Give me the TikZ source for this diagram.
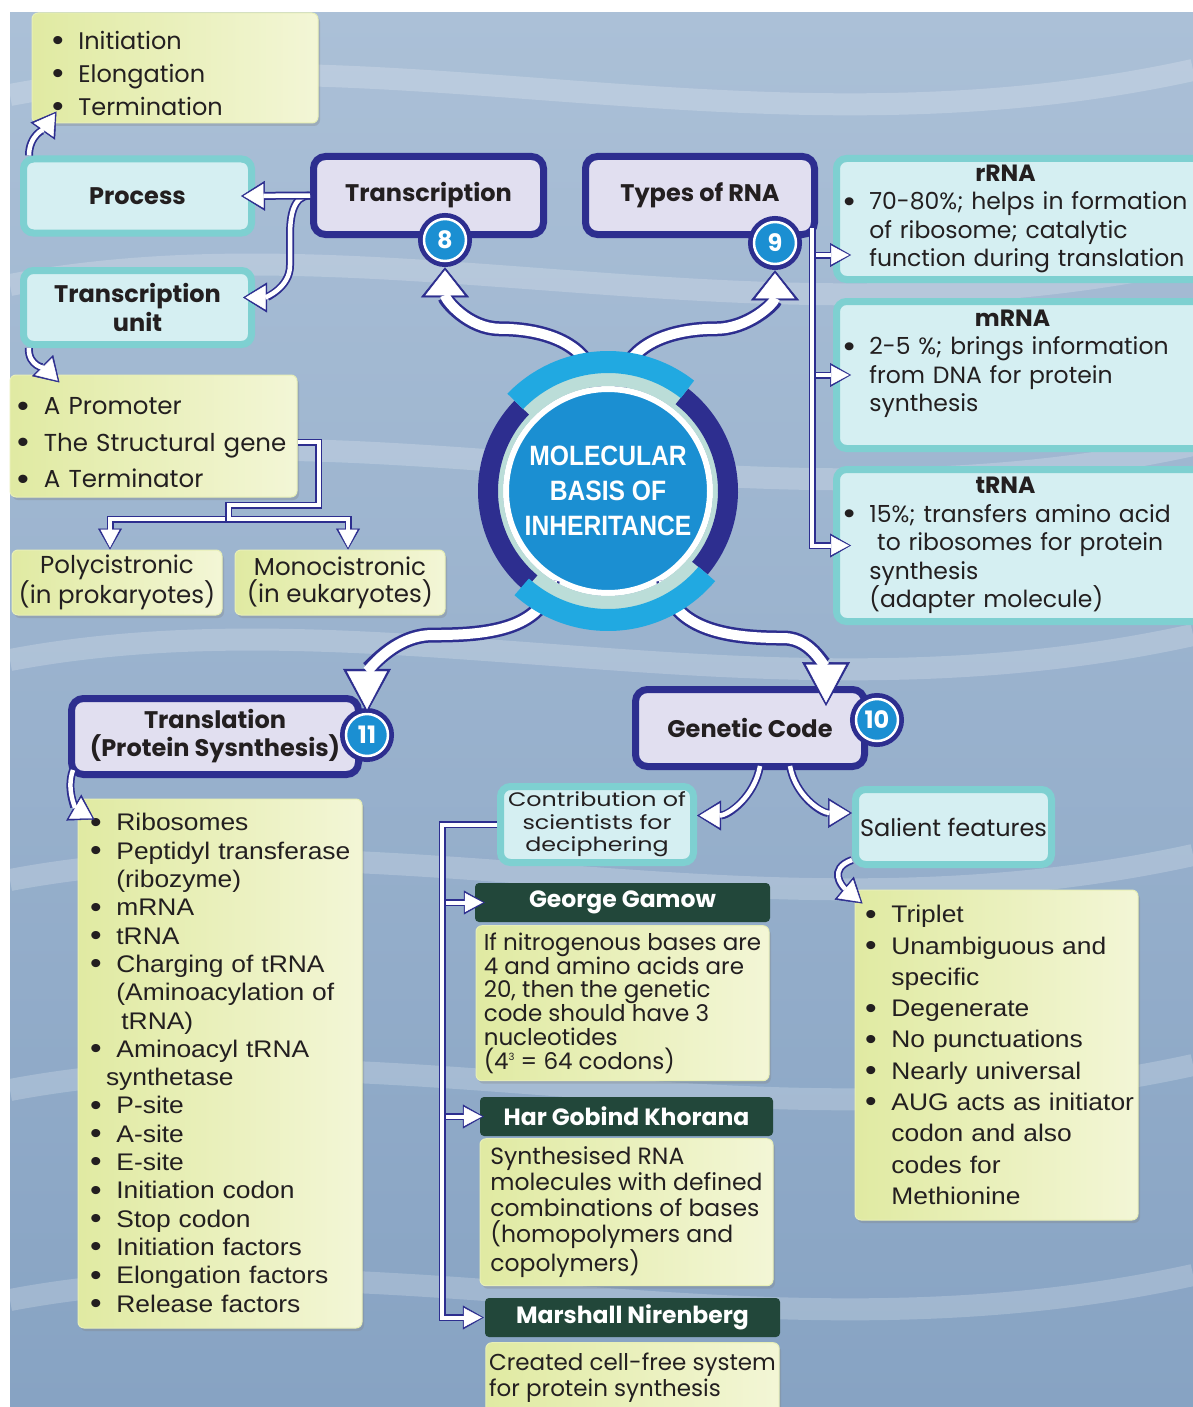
\documentclass[tikz,border=0pt]{standalone}
\usepackage{fontspec}
\setmainfont{Poppins}
\newfontfamily\widefont[FakeStretch=1.22]{Poppins}
\newfontfamily\listfont[FakeStretch=1.1]{Liberation Sans}
\newfontfamily\hubfont[FakeStretch=0.88]{Liberation Sans}
\usetikzlibrary{arrows.meta, positioning, shadows}

\definecolor{navy}{HTML}{2D2E8F}
\definecolor{lav}{HTML}{E1DFF0}
\definecolor{tealb}{HTML}{7ED0D1}
\definecolor{tealf}{HTML}{D5EFF2}
\definecolor{ylwA}{HTML}{E0EAA2}
\definecolor{ylwB}{HTML}{F3F6D6}
\definecolor{dkgreen}{HTML}{22473A}
\definecolor{bblue}{HTML}{1B8FD2}
\definecolor{arcblue}{HTML}{21A9E1}
\definecolor{mint}{HTML}{BBDDD8}
\definecolor{ink}{HTML}{231F20}
\definecolor{bgA}{HTML}{ABC0D7}
\definecolor{bgB}{HTML}{87A3C3}

\newcommand{\bitem}[1]{\mbox{\makebox[1.1em][l]{\listfont\raisebox{-0.06em}{\scalebox{1.25}{\textbullet}}}#1}}
\newcommand{\bpad}[1]{\mbox{\hspace*{1.1em}#1}}

\begin{document}
\begin{tikzpicture}[
    x=1pt, y=-1pt,
    hdr/.style={draw=navy, line width=7pt, fill=lav, rounded corners=12pt,
                text=ink, align=center, font=\fontsize{24}{29}\selectfont\bfseries},
    soft/.style={draw=tealb, line width=7pt, fill=tealf, rounded corners=10pt,
                 text=ink, align=center},
    note/.style={left color=ylwA, right color=ylwB, draw=ylwA!60!ylwB, line width=1pt,
                 rounded corners=6pt, text=ink, align=left,
                 drop shadow={shadow xshift=2pt, shadow yshift=-3pt, opacity=.3}},
    banner/.style={fill=dkgreen, rounded corners=4pt, text=white, minimum height=39pt,
                   font=\fontsize{23.5}{26}\selectfont\bfseries},
    badge/.style={circle, minimum size=42pt, inner sep=0pt, fill=bblue, draw=white,
                  line width=2.5pt, text=white, font=\fontsize{24}{24}\selectfont\bfseries,
                  preaction={draw=navy, line width=12pt}},
    hub/.style={circle, minimum size=204pt, inner sep=0pt, fill=bblue, draw=white,
                line width=6pt, text=white, align=center,
                font=\hubfont\fontsize{28}{35}\selectfont\bfseries},
    flow/.style={draw=navy, line width=15pt, -{Triangle[length=30pt, width=48pt, line width=0.5pt]},
                 postaction={draw=white, line width=10pt,
                 -{Triangle[length=25pt, width=39pt, line width=0.5pt]}, shorten >=3pt}},
    flowlong/.style={draw=navy, line width=15pt, -{Triangle[length=44pt, width=48pt, line width=0.5pt]},
                 postaction={draw=white, line width=10pt,
                 -{Triangle[length=38pt, width=40pt, line width=0.5pt]}, shorten >=3.5pt}},
    link/.style={draw=navy, line width=8pt, -{Triangle[length=24pt, width=30pt, line width=0.5pt]},
                 postaction={draw=white, line width=4.5pt,
                 -{Triangle[length=20pt, width=24pt, line width=0.5pt]}, shorten >=2.5pt}},
    twin/.style={draw=navy, line width=7pt, -{Triangle[length=21pt, width=24pt, line width=0.5pt]},
                 postaction={draw=white, line width=4pt,
                 -{Triangle[length=18pt, width=19pt, line width=0.5pt]}, shorten >=2pt}},
]
\useasboundingbox (0,0) rectangle (1193,1407);
\fill[top color=bgA, bottom color=bgB] (10,13) rectangle (1193,1407);
\foreach \yy in {95, 285, 470, 660, 880, 1090, 1300}
  \draw[white, opacity=.2, line width=22pt] (10,\yy) .. controls (380,\yy-70) and (760,\yy+70) .. (1193,\yy-25);

\node[note, minimum width=286pt, minimum height=110pt, text width=246pt,
      font=\fontsize{24}{33}\selectfont] (ini) at (175,68)
   {\rule{0pt}{30pt}\bitem{Initiation}\\ \bitem{Elongation}\\ \bitem{Termination}};
\node[soft, minimum width=228pt, minimum height=74pt, font=\fontsize{24}{29}\selectfont\bfseries]
   (proc) at (137.5,196) {Process};
\node[soft, minimum width=228pt, minimum height=74pt, font=\fontsize{24}{29}\selectfont\bfseries]
   (tru) at (137.5,307.5) {Transcription\\unit};
\node[hdr, minimum width=230pt, minimum height=78pt] (trs) at (428.5,195.5) {Transcription};
\node[hdr, minimum width=229pt, minimum height=78pt] (typ) at (700,195.5) {Types of RNA};
\node[badge] (b8) at (445,240) {8};
\node[badge] (b9) at (775,243) {9};
\node[note, minimum width=287pt, minimum height=122pt, text width=273pt,
      font=\fontsize{24.5}{36.5}\selectfont] (prm) at (153.5,436)
   {\rule{0pt}{32pt}\bitem{A Promoter}\\ \bitem{The Structural gene}\\ \bitem{A Terminator}};
\node[note, align=center, minimum width=210pt, minimum height=65pt,
      font=\fontsize{24.5}{27}\selectfont] (poly) at (117,582.5) {Polycistronic\\(in prokaryotes)};
\node[note, align=center, minimum width=210pt, minimum height=65pt,
      font=\fontsize{24.5}{27}\selectfont] (mono) at (340,582.5) {Monocistronic\\(in eukaryotes)};

\node[soft, anchor=west, align=left, text width=380pt, inner xsep=7pt, minimum height=121pt,
      font=\fontsize{23.5}{28.5}\selectfont] (rrna) at (833,219)
   {\makebox[324pt]{\bfseries rRNA}\\ \bitem{70-80\%; helps in formation}\\
    \bpad{of ribosome; catalytic}\\ \bpad{function during translation}};
\node[soft, anchor=west, align=left, text width=380pt, inner xsep=7pt, minimum height=147pt,
      font=\fontsize{23.5}{28.5}\selectfont] (mrna) at (833,375)
   {\makebox[338pt]{\bfseries mRNA}\\ \bitem{2-5 \%; brings information}\\
    \bpad{from DNA for protein}\\ \bpad{synthesis}\\ \mbox{}};
\node[soft, anchor=west, align=left, text width=380pt, inner xsep=7pt, minimum height=152pt,
      font=\fontsize{23.5}{28.5}\selectfont] (trna) at (833,545.5)
   {\makebox[324pt]{\bfseries tRNA}\\ \bitem{15\%; transfers amino acid}\\
    \bpad{\ to ribosomes for protein}\\ \bpad{synthesis}\\ \bpad{(adapter molecule)}};

\node[hub] (mbi) at (608,491) {MOLECULAR\\BASIS OF\\INHERITANCE};

\node[hdr, minimum width=287pt, minimum height=76pt, font=\fontsize{24}{28}\selectfont\bfseries]
   (trl) at (215,736.5) {Translation\\(Protein Sysnthesis)};
\node[badge] (b11) at (367,735) {11};
\node[hdr, minimum width=229pt, minimum height=77pt] (gen) at (750,728) {Genetic Code};
\node[badge] (b10) at (877,720) {10};

\node[note, minimum width=284pt, minimum height=529pt, text width=260pt,
      font=\listfont\fontsize{24}{28.3}\selectfont] (rib) at (220,1063.5)
   {\bitem{Ribosomes}\\ \bitem{Peptidyl transferase}\\ \bpad{(ribozyme)}\\ \bitem{mRNA}\\
    \bitem{tRNA}\\ \bitem{Charging of tRNA}\\ \bpad{(Aminoacylation of}\\ \bpad{\hspace*{5pt}tRNA)}\\
    \bitem{Aminoacyl tRNA}\\ \mbox{\hspace*{16pt}synthetase}\\ \bitem{P-site}\\ \bitem{A-site}\\
    \bitem{E-site}\\ \bitem{Initiation codon}\\ \bitem{Stop codon}\\ \bitem{Initiation factors}\\
    \bitem{Elongation factors}\\ \bitem{Release factors}};

\node[soft, minimum width=193pt, minimum height=76pt, font=\widefont\fontsize{19.5}{22.5}\selectfont]
   (cont) at (597,824.5) {Contribution of\\scientists for\\deciphering};
\node[soft, minimum width=196pt, minimum height=75pt, font=\fontsize{24}{27}\selectfont]
   (sal) at (953.5,827) {Salient features};
\node[note, minimum width=283pt, minimum height=330pt, text width=263pt,
      font=\listfont\fontsize{24}{31.3}\selectfont] (sfl) at (996.5,1055)
   {\bitem{Triplet}\\ \bitem{Unambiguous and}\\ \bpad{specific}\\ \bitem{Degenerate}\\
    \bitem{No punctuations}\\ \bitem{Nearly universal}\\ \bitem{AUG acts as initiator}\\
    \bpad{codon and also}\\ \bpad{codes for}\\ \bpad{Methionine}};

\node[banner, minimum width=295pt] (gam) at (622.5,902.5) {George Gamow};
\node[note, below=3pt of gam, minimum width=293pt, minimum height=155pt,
      font=\fontsize{23}{23.8}\selectfont] (gamt)
   {If nitrogenous bases are\\4 and amino acids are\\20, then the genetic\\code should have 3\\
    nucleotides\\(4\raisebox{0.4em}{\fontsize{10}{10}\selectfont 3} = 64 codons)};
\node[banner, minimum width=293pt] (khor) at (626.5,1116.5) {Har Gobind Khorana};
\node[note, below=2pt of khor, minimum width=293pt, minimum height=147pt,
      font=\fontsize{23.5}{26}\selectfont] (khort)
   {Synthesised RNA\\molecules with defined\\combinations of bases\\(homopolymers and\\copolymers)};
\node[banner, minimum width=295pt] (nir) at (632.5,1317.5) {Marshall Nirenberg};
\node[note, below=5pt of nir, minimum width=293pt, minimum height=70pt,
      font=\fontsize{23}{26}\selectfont] (nirt)
   {Created cell-free system\\for protein synthesis};

\draw[link] (trs.west) to[out=180,in=90] ++(-20,40) -- ++(0,30)
   to[out=-90,in=0] ([xshift=-12pt,yshift=10pt]tru.east);
\draw[link] (trs.west) -- ([xshift=-14pt]proc.east);
\draw[link] ([xshift=9pt]proc.north west) to[out=90,in=235] ([xshift=25pt,yshift=12pt]ini.south west);
\draw[link] ([xshift=9pt]tru.south west) to[out=-95,in=135] ([xshift=50pt,yshift=-8pt]prm.north west);
\draw[twin] ([yshift=-6pt]prm.east) -- ++(21,0) -- ++(0,63) -- ++(-90,0) -- ++(0,14)
   -| ([xshift=-7pt]poly.north);
\draw[twin] ([yshift=-6pt]prm.east) -- ++(21,0) -- ++(0,63) -- ++(-90,0) -- ++(0,14)
   -| ([xshift=8pt]mono.north);
\draw[twin] ([xshift=-6pt,yshift=10pt]typ.south east) |- ([xshift=18pt,yshift=-36pt]rrna.west);
\draw[twin] ([xshift=-6pt,yshift=10pt]typ.south east) |- ([xshift=18pt]mrna.west);
\draw[twin] ([xshift=-6pt,yshift=10pt]typ.south east) |- ([xshift=18pt]trna.west);

\draw[flow] (mbi.97) to[out=95,in=0] ++(-95,-58) to[out=180,in=-90] ([yshift=-5pt]b8.south);
\draw[flow] (mbi.83) to[out=85,in=180] ++(95,-58) to[out=0,in=-90] ([yshift=-5pt]b9.south);
\draw[flowlong] (mbi.238) to[out=-100,in=0] ++(-120,55) to[out=180,in=90] (b11.north);
\draw[flowlong] (mbi.-58) to[out=-80,in=180] ++(120,58) to[out=0,in=90]
   ([xshift=-42pt,yshift=-20pt]gen.north east);

\draw[link] ([xshift=5pt,yshift=8pt]trl.south west) to[out=-110,in=150] ([xshift=17pt,yshift=-21pt]rib.north west);
\draw[link] ([xshift=10pt,yshift=4pt]gen.south) to[out=-100,in=0] ([yshift=9pt]cont.east);
\draw[link] ([xshift=40pt,yshift=4pt]gen.south) to[out=-80,in=180] ([yshift=14pt]sal.west);
\draw[link] ([yshift=8pt]sal.south west) to[out=200,in=140,looseness=1.5] ([xshift=8pt,yshift=-14pt]sfl.north west);
\draw[twin] (cont.west) -- ++(-55,0) |- ([xshift=10pt]gam.west);
\draw[twin] (cont.west) -- ++(-55,0) |- ([xshift=4pt]khor.west);
\draw[twin] (cont.west) -- ++(-55,0) |- ([xshift=-1pt]nir.west);

\fill[mint, even odd rule] (mbi.center) circle[radius=124pt] circle[radius=105pt];
\draw[navy, line width=20pt] (mbi.center) ++(-40:120pt) arc[start angle=-40, end angle=52, radius=120pt];
\draw[navy, line width=20pt] (mbi.center) ++(136:120pt) arc[start angle=136, end angle=230, radius=120pt];
\draw[arcblue, line width=22pt] (mbi.center) ++(52:129pt) arc[start angle=52, end angle=136, radius=129pt];
\draw[arcblue, line width=22pt] (mbi.center) ++(228:129pt) arc[start angle=228, end angle=320, radius=129pt];
\end{tikzpicture}
\end{document}
